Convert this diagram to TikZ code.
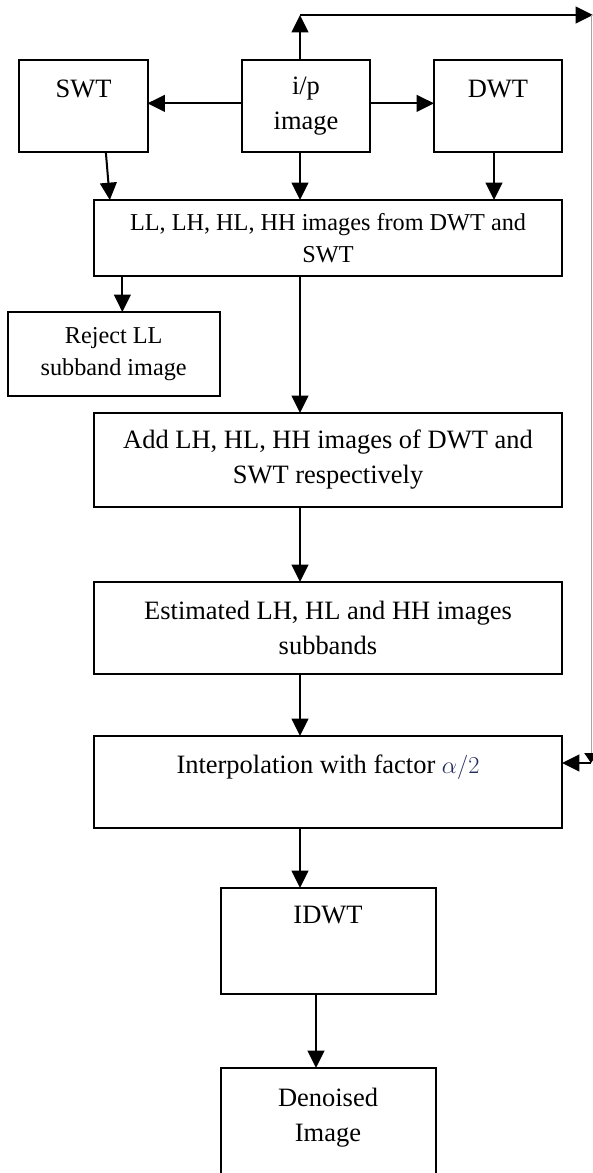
\documentclass[tikz,border=0pt]{standalone}
\usepackage{fontspec}
\setmainfont{Liberation Serif}
\usepackage{xcolor}
\usepackage{tikz}
\usetikzlibrary{positioning,arrows.meta}
\definecolor{mathink}{RGB}{34,44,92}
\tikzset{
    wavebox/.style={draw, line width=0.06cm, rectangle, align=center, inner sep=0pt, outer sep=0pt, font=\fontsize{22.6}{29.9}\selectfont},
    wavenote/.style={wavebox, font=\fontsize{20.7}{27.2}\selectfont},
    widebox/.style={wavebox, minimum width=14.04cm},
    smallbox/.style={wavebox, minimum width=3.84cm, minimum height=2.76cm},
    wavearrow/.style={draw, line width=0.06cm, -{Triangle[length=0.52cm, width=0.5cm]}},
    feedline/.style={draw, line width=0.03cm, gray!70}
}

\begin{document}
\begin{tikzpicture}
    \useasboundingbox (0,0) rectangle (17.79,-35.19);
    \clip (0,0) rectangle (17.79,-35.19);

    \node[smallbox] (ip) at (9.18,-3.18) {i/p\\image};
    \node[smallbox, left=2.835cm of ip] (swt) {SWT\\~};
    \node[smallbox, right=1.92cm of ip] (dwt) {DWT\\~};
    \node[widebox, wavenote, minimum height=2.28cm, below=1.44cm of ip, xshift=0.66cm] (bands) {LL, LH, HL, HH images from DWT and\\SWT};
    \node[wavenote, minimum width=6.36cm, minimum height=2.52cm, below=1.08cm of bands.south west, anchor=north west, xshift=-2.59cm] (reject) {Reject LL\\subband image};
    \node[widebox, minimum height=2.82cm, below=4.11cm of bands] (add) {Add LH, HL, HH images of DWT and\\SWT respectively};
    \node[widebox, minimum height=2.76cm, below=2.25cm of add] (estim) {Estimated LH, HL and HH images\\subbands};
    \node[widebox, minimum height=2.76cm, below=1.86cm of estim] (interp) {Interpolation with factor \textcolor{mathink}{$\alpha/2$}\\~};
    \node[wavebox, minimum width=6.45cm, minimum height=3.18cm, below=1.8cm of interp] (idwt) {IDWT\\[0.51cm]~};
    \node[wavebox, minimum width=6.45cm, minimum height=3.84cm, below=2.22cm of idwt] (denoised) {Denoised\\Image\\~};

    \coordinate (spine) at (9.0,0);
    \coordinate (top) at (9.0,-0.45);
    \coordinate (corner) at (17.73,-0.45);
    \coordinate (turn) at (17.73,-22.89);

    \draw[wavearrow] ([yshift=0.08cm]ip.west) -- ([yshift=0.08cm]swt.east);
    \draw[wavearrow] ([yshift=0.08cm]ip.east) -- ([yshift=0.08cm]dwt.west);
    \draw[wavearrow] (ip.north -| spine) -- (top);
    \draw[wavearrow] (top) -- (17.79,-0.45);
    \draw[feedline, -{Triangle[length=0.3cm, width=0.4cm, color=black]}] (corner) -- (turn);
    \draw[wavearrow] (turn) -- (interp.east |- turn);

    \draw[wavearrow] ([xshift=0.67cm]swt.south) -- ([xshift=0.79cm]swt.south |- bands.north);
    \draw[wavearrow] (ip.south -| spine) -- (bands.north -| spine);
    \draw[wavearrow] ([xshift=-0.12cm]dwt.south) -- ([xshift=-0.12cm]dwt.south |- bands.north);
    \draw[wavearrow] ([xshift=0.26cm]reject.north |- bands.south) -- ([xshift=0.26cm]reject.north);
    \draw[wavearrow] (bands.south -| spine) -- (add.north -| spine);
    \draw[wavearrow] (add.south -| spine) -- (estim.north -| spine);
    \draw[wavearrow] (estim.south -| spine) -- (interp.north -| spine);
    \draw[wavearrow] (interp.south -| spine) -- (idwt.north -| spine);
    \draw[wavearrow] ([xshift=-0.36cm]idwt.south -| denoised.north) -- ([xshift=-0.36cm]denoised.north);
\end{tikzpicture}
\end{document}
